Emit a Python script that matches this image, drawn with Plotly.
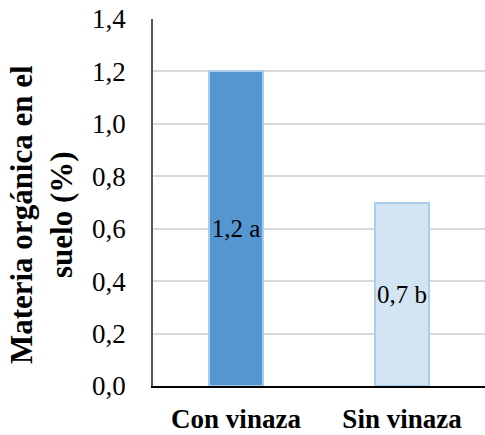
import plotly.graph_objects as go

categories = ["Con vinaza", "Sin vinaza"]
values = [1.2, 0.7]
labels = ["1,2 a", "0,7 b"]
fill_colors = ["#5596D0", "#D3E4F3"]
line_colors = ["#A9CDEB", "#A9CDEB"]
tick_vals = [0, 0.2, 0.4, 0.6, 0.8, 1.0, 1.2, 1.4]
tick_text = ["0,0", "0,2", "0,4", "0,6", "0,8", "1,0", "1,2", "1,4"]
y_title = "<b>Materia orgánica en el<br>suelo (%)</b>"

font_family = "Liberation Serif"

fig = go.Figure()
fig.add_trace(go.Bar(
    x=categories, y=values, width=0.33,
    marker=dict(color=fill_colors, line=dict(color=line_colors, width=2)),
    text=labels, textposition="inside", insidetextanchor="middle",
    insidetextfont=dict(color="black", size=25, family=font_family),
    textangle=0,
))

fig.update_layout(
    width=485, height=435,
    margin=dict(l=153, r=0, t=19, b=49),
    plot_bgcolor="white", paper_bgcolor="white",
    showlegend=False,
    font=dict(family=font_family, color="black"),
    bargap=0,
    uniformtext=dict(minsize=25, mode="show"),
)
fig.add_annotation(
    text=y_title, textangle=-90, showarrow=False,
    xref="paper", yref="paper", x=-0.334, y=0.466,
    xanchor="center", yanchor="middle",
    font=dict(size=31, family=font_family, color="black"),
)
fig.update_xaxes(
    showline=True, linecolor="#000000", linewidth=2,
    tickfont=dict(size=27, family=font_family, color="black"),
    ticks="outside", ticklen=8, tickcolor="rgba(0,0,0,0)",
    showgrid=False, range=[-0.5, 1.5],
    tickprefix="<b>", ticksuffix="</b>",
)
fig.update_yaxes(
    range=[0, 1.4], tickvals=tick_vals, ticktext=tick_text,
    showgrid=True, gridcolor="#D9D9D9", gridwidth=2,
    showline=True, linecolor="#595959", linewidth=1.5,
    ticks="outside", ticklen=20, tickcolor="rgba(0,0,0,0)",
    tickfont=dict(size=27, family=font_family, color="black"),
    zeroline=False,
)

fig.write_html("out.html", post_script="document.body.style.margin='0';",
               config={"displayModeBar": False})
